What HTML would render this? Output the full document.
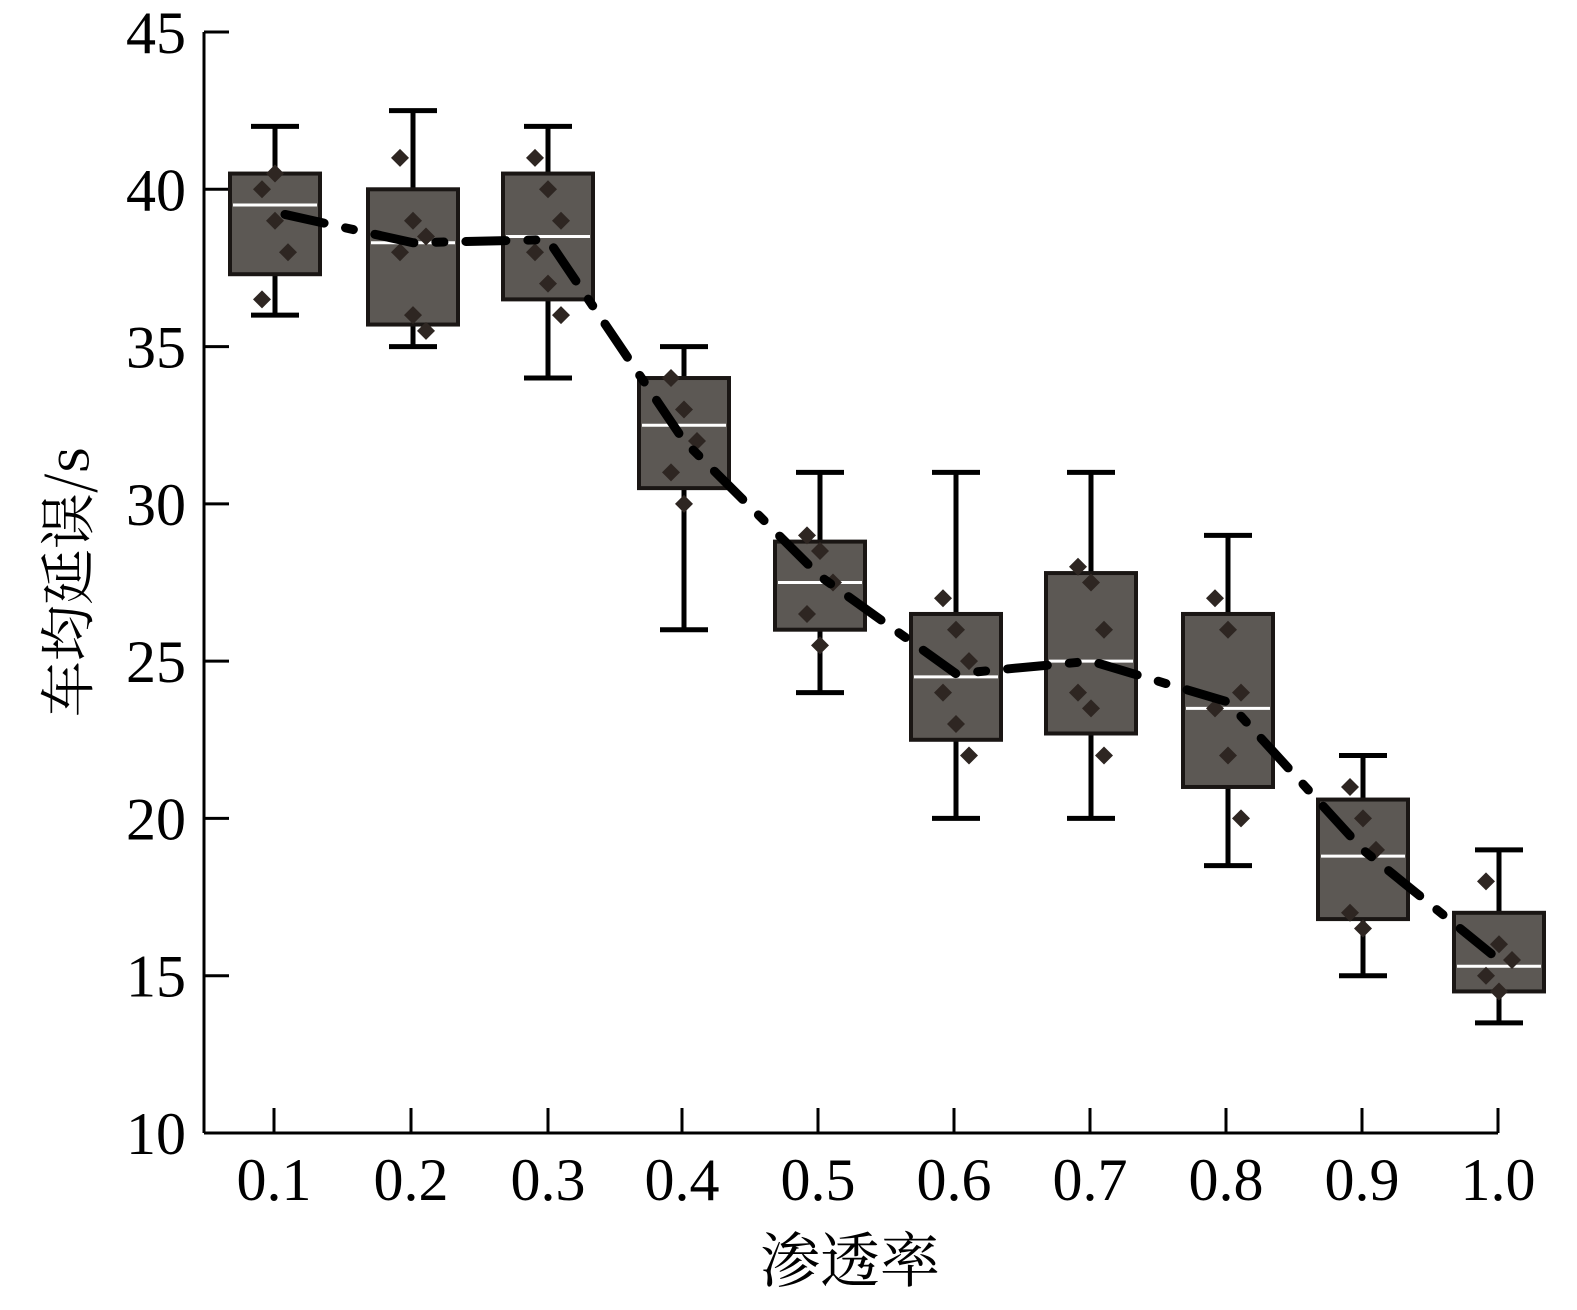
<!DOCTYPE html>
<html><head><meta charset="utf-8"><style>body{margin:0;background:#fff}</style></head>
<body>
<svg width="1577" height="1305" xmlns="http://www.w3.org/2000/svg" font-family="Liberation Serif, 'Noto Serif CJK SC', serif">
<rect width="1577" height="1305" fill="#fff"/>
<g stroke="#000" stroke-width="3">
<line x1="204" y1="32" x2="204" y2="1133"/>
<line x1="204" y1="1133" x2="1498" y2="1133"/>
</g>
<g id="yt" stroke="#000" stroke-width="3"></g>
<g id="yl" font-size="60" text-anchor="end" fill="#000"></g>
<g id="xl" font-size="60" text-anchor="middle" fill="#000"></g>
<g id="boxes"></g>
<polyline id="mean" fill="none" stroke="#000" stroke-width="9" stroke-dasharray="40 22 8 22" stroke-linecap="round"/>
<text x="850" y="1282" font-size="60" text-anchor="middle" font-family="'Noto Serif CJK SC', serif">渗透率</text>
<text transform="translate(88,582) rotate(-90)" font-size="56" text-anchor="middle" font-family="'Noto Serif CJK SC', serif">车均延误/s</text>
<script>
const Y=v=>1133-(v-10)*31.457;
const ns="http://www.w3.org/2000/svg";
function el(p,t,a,txt){const e=document.createElementNS(ns,t);for(const k in a)e.setAttribute(k,a[k]);if(txt)e.textContent=txt;document.getElementById(p).appendChild(e);return e;}
for(let v=10;v<=45;v+=5){const y=Y(v);if(v>10)el('yt','line',{x1:204,y1:y,x2:229,y2:y});el('yl','text',{x:186,y:y+21},String(v));}
const xs=[274,411,548,682,818,954,1090,1226,1362,1498];
xs.forEach((x,i)=>{el('yt','line',{x1:x,y1:1133,x2:x,y2:1108});el('xl','text',{x:x,y:1200},((i+1)/10).toFixed(1));});
const D=[[36,37.3,39.5,40.5,42,39.2,[40,39,38,36.5,40.5]],
[35,35.7,38.3,40,42.5,38.3,[41,39,38.5,38,36,35.5]],
[34,36.5,38.5,40.5,42,38.4,[41,40,39,38,37,36]],
[26,30.5,32.5,34,35,32,[34,33,32,31,30]],
[24,26,27.5,28.8,31,27.7,[29,28.5,27.5,26.5,25.5]],
[20,22.5,24.5,26.5,31,24.6,[27,26,25,24,23,22]],
[20,22.7,25,27.8,31,25,[28,27.5,26,24,23.5,22]],
[18.5,21,23.5,26.5,29,23.7,[27,26,24,23.5,22,20]],
[15,16.8,18.8,20.6,22,19,[21,20,19,17,16.5]],
[13.5,14.5,15.3,17,19,15.5,[18,16,15.5,15,14.5]]];
const bx=[230,368,503,639,775,911,1046,1183,1318,1454];
let pts=[];
D.forEach((d,i)=>{const x=bx[i],w=90,cx=x+45;
el('boxes','line',{x1:cx,y1:Y(d[0]),x2:cx,y2:Y(d[4]),stroke:'#000','stroke-width':5});
el('boxes','line',{x1:cx-24,y1:Y(d[0]),x2:cx+24,y2:Y(d[0]),stroke:'#000','stroke-width':5});
el('boxes','line',{x1:cx-24,y1:Y(d[4]),x2:cx+24,y2:Y(d[4]),stroke:'#000','stroke-width':5});
el('boxes','rect',{x:x,y:Y(d[3]),width:w,height:Y(d[1])-Y(d[3]),fill:'#5c5854',stroke:'#1a1614','stroke-width':4});
el('boxes','line',{x1:x+3,y1:Y(d[2]),x2:x+w-3,y2:Y(d[2]),stroke:'#fff','stroke-width':3});
d[6].forEach((v,j)=>{const px=cx+((j%3)-1)*13,py=Y(v);el('boxes','path',{d:`M${px} ${py-9}L${px+9} ${py}L${px} ${py+9}L${px-9} ${py}Z`,fill:'#2e2622'});});
pts.push(cx+(i==0?10:0)+','+Y(d[5]));});
document.getElementById('mean').setAttribute('points',pts.join(' '));
</script>
</svg>
</body></html>
